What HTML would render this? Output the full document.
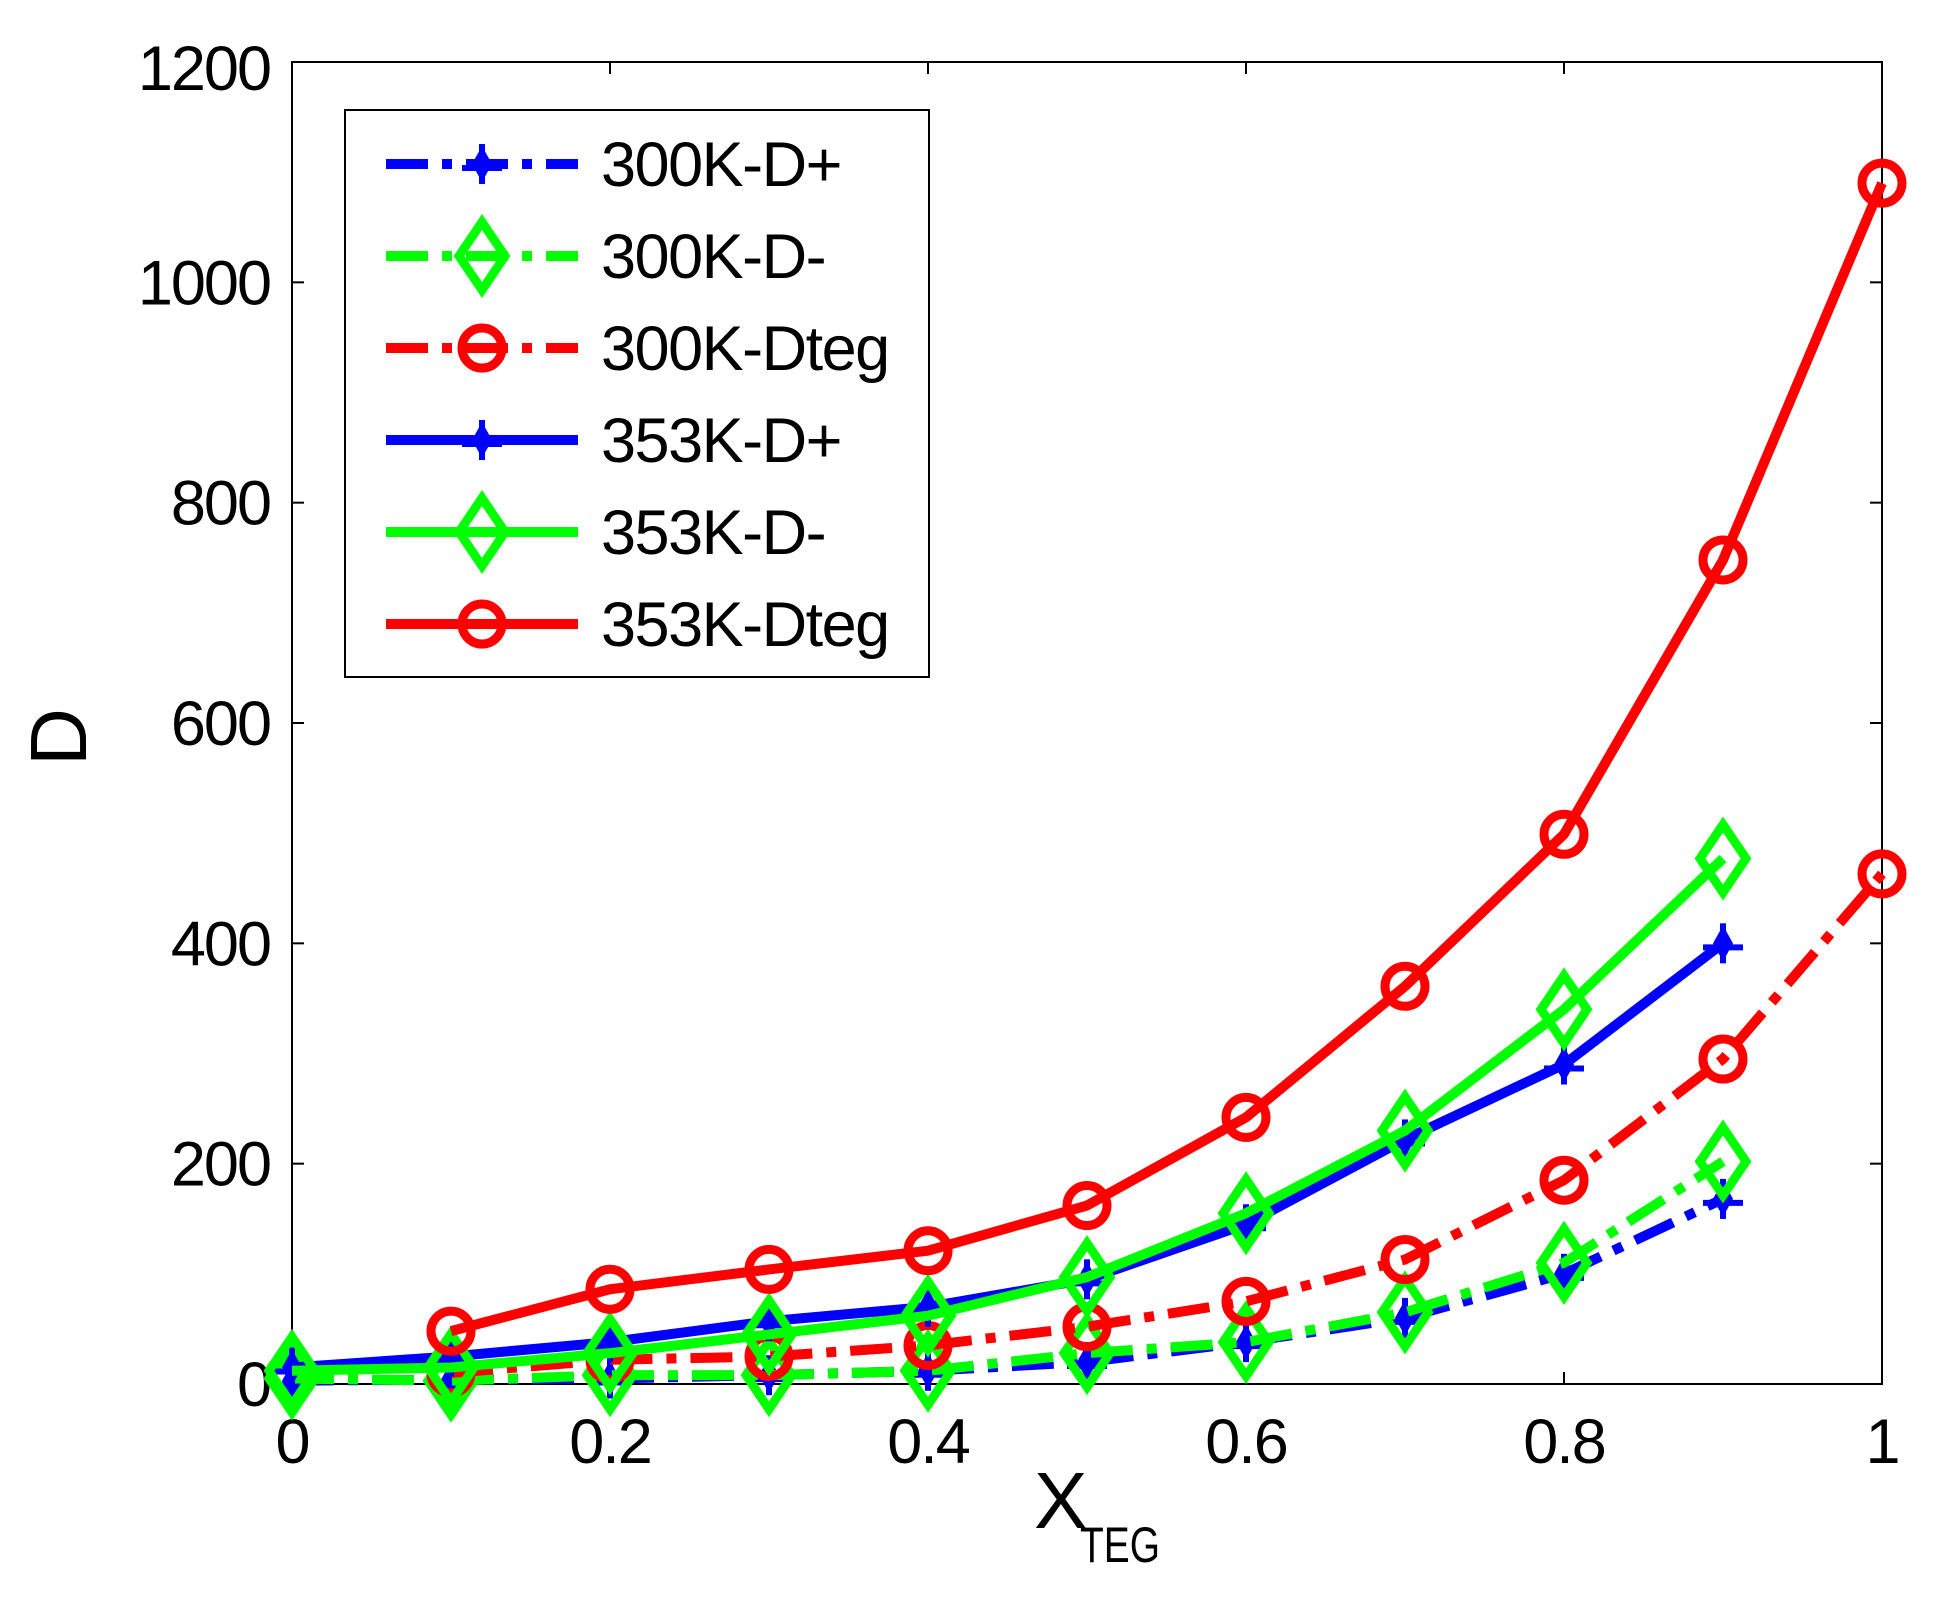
<!DOCTYPE html>
<html><head><meta charset="utf-8"><style>
html,body{margin:0;padding:0;background:#fff;}
svg{display:block;font-family:"Liberation Sans",sans-serif;}
</style></head><body>
<svg id="s" width="1936" height="1603" viewBox="0 0 1936 1603" xmlns="http://www.w3.org/2000/svg">
<rect width="1936" height="1603" fill="#fff"/>
<rect x="292" y="62" width="1590" height="1322" fill="none" stroke="#000" stroke-width="2"/>
<g id="ticks" stroke="#000" stroke-width="2"></g>
<g id="labels" font-size="63" fill="#000" letter-spacing="-2"></g>
<g id="series"></g>
<text x="1034" y="1528" font-size="80">X</text>
<text x="1080" y="1562" font-size="50" textLength="80" lengthAdjust="spacingAndGlyphs">TEG</text>
<text transform="translate(86,737) rotate(-90)" font-size="80" text-anchor="middle">D</text>
<rect x="345" y="110" width="584" height="567" fill="#fff" stroke="#000" stroke-width="2"/>
<g id="legend"></g>
</svg>
<script>
var NS="http://www.w3.org/2000/svg";
function X(v){return 292+v*1590;}
function Y(v){return 1384-v*1322/1200;}
function el(p,t,a,txt){var e=document.createElementNS(NS,t);for(var k in a)e.setAttribute(k,a[k]);if(txt!=null)e.textContent=txt;p.appendChild(e);return e;}
var tk=document.getElementById('ticks'),lb=document.getElementById('labels');
for(var i=0;i<=5;i++){var x=X(i*0.2);
 el(tk,'line',{x1:x,y1:1384,x2:x,y2:1372});el(tk,'line',{x1:x,y1:62,x2:x,y2:74});
 el(lb,'text',{x:x,y:1463,'text-anchor':'middle'},i==0?'0':i==5?'1':(i*0.2).toFixed(1));}
for(var i=0;i<=6;i++){var y=Y(i*200);
 el(tk,'line',{x1:292,y1:y,x2:304,y2:y});el(tk,'line',{x1:1882,y1:y,x2:1870,y2:y});
 el(lb,'text',{x:270,y:y+22+(i==6?6:0),'text-anchor':'end'},String(i*200));}
var B='#0000ff',G='#00ff00',R='#ff0000';
var DD='42 14 10 14';
var xs=[0,.1,.2,.3,.4,.5,.6,.7,.8,.9,1];
var S=[
 {c:B,d:DD,m:'p',x:xs.slice(0,10),y:[3,4,5,8,12,20,38,60,100,168]},
 {c:G,d:DD,m:'d',x:xs.slice(0,10),y:[5,3,8,8,12,28,38,65,110,202]},
 {c:R,d:DD,m:'o',x:xs.slice(1),y:[10,22,25,35,52,75,113,185,295,463]},
 {c:B,d:null,m:'p',x:xs.slice(0,10),y:[15,25,38,57,70,95,145,222,290,400]},
 {c:G,d:null,m:'d',x:xs.slice(0,10),y:[12,15,28,45,62,97,155,230,340,477]},
 {c:R,d:null,m:'o',x:xs.slice(1),y:[48,86,104,121,162,242,361,499,748,1090]}
];
var names=['300K-D+','300K-D-','300K-Dteg','353K-D+','353K-D-','353K-Dteg'];
function marker(g,m,c,x,y){
 if(m=='d')el(g,'polygon',{points:(x)+','+(y-34)+' '+(x+23)+','+y+' '+x+','+(y+34)+' '+(x-23)+','+y,fill:'none',stroke:c,'stroke-width':9});
 else if(m=='o')el(g,'circle',{cx:x,cy:y,r:20,fill:'none',stroke:c,'stroke-width':9});
 else{el(g,'polygon',{points:x+','+(y-18)+' '+(x+10)+','+y+' '+x+','+(y+18)+' '+(x-10)+','+y,fill:c});
  el(g,'line',{x1:x-20,y1:y+4,x2:x+20,y2:y+4,stroke:c,'stroke-width':6});
  el(g,'line',{x1:x,y1:y-20,x2:x,y2:y+20,stroke:c,'stroke-width':6});}
}
var sg=document.getElementById('series');
S.forEach(function(s){var g=el(sg,'g',{});
 var pts=s.x.map(function(x,i){return X(x)+','+Y(s.y[i]);}).join(' ');
 var a={points:pts,fill:'none',stroke:s.c,'stroke-width':10,'stroke-linejoin':'round'};
 if(s.d)a['stroke-dasharray']=s.d;
 el(g,'polyline',a);
 s.x.forEach(function(x,i){marker(g,s.m,s.c,X(x),Y(s.y[i]));});
});
var lg=document.getElementById('legend');
S.forEach(function(s,i){var y=164+i*92;
 var a={x1:386,y1:y,x2:578,y2:y,stroke:s.c,'stroke-width':10};
 if(s.d)a['stroke-dasharray']=s.d;
 el(lg,'line',a);marker(lg,s.m,s.c,482,y);
 el(lg,'text',{x:601,y:y+22,'font-size':63,'letter-spacing':-1.5},names[i]);
});
</script>
</body></html>
